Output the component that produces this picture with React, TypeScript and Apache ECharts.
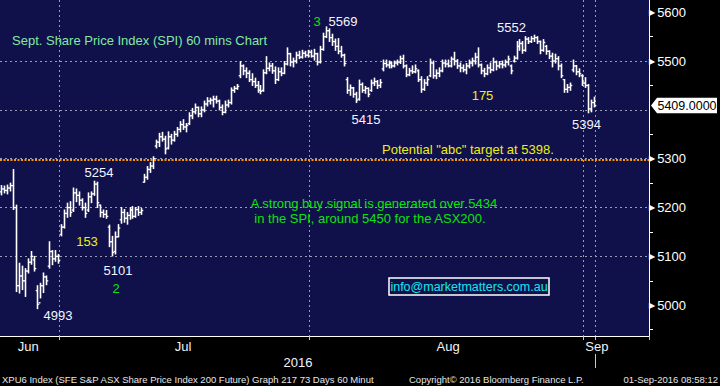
import { useEffect, useRef } from 'react';
import * as echarts from 'echarts';

// trading days shown (4 bars per day)
const junDays = ['24', '27', '28', '29', '30'];
const julDays = ['1', '4', '5', '6', '7', '8', '11', '12', '13', '14', '15', '18', '19', '20', '21', '22', '25', '26', '27', '28', '29'];
const augDays = ['1', '2', '3', '4', '5', '8', '9', '10', '11', '12', '15', '16', '17', '18', '19', '22', '23', '24', '25', '26', '29', '30', '31'];
const sepDays = ['1', '2', '5', '6', '7', '8'];
const slots = ['10:00', '12:00', '14:00', '16:00'];

// OHLC bars [open, high, low, close]
const junBars = [
  [5232, 5245, 5226, 5238], [5238, 5244, 5230, 5235], [5235, 5246, 5228, 5240], [5240, 5250, 5234, 5245],
  [5245, 5278, 5196, 5200], [5200, 5205, 5028, 5040], [5040, 5086, 5025, 5060], [5060, 5080, 5032, 5050],
  [5050, 5075, 5018, 5070], [5070, 5095, 5066, 5088], [5088, 5110, 5084, 5100], [5093, 5100, 5070, 5075],
  [5030, 5040, 4993, 5002], [5005, 5045, 5015, 5040], [5040, 5066, 5026, 5058], [5058, 5060, 5042, 5050],
  [5080, 5130, 5076, 5110], [5110, 5112, 5083, 5095], [5095, 5112, 5090, 5100], [5100, 5104, 5086, 5092],
];
const julBars = [
  [5145, 5165, 5142, 5160], [5160, 5195, 5158, 5188], [5188, 5209, 5180, 5200], [5200, 5212, 5182, 5190],
  [5195, 5240, 5192, 5230], [5230, 5238, 5212, 5225], [5225, 5232, 5205, 5215], [5215, 5218, 5195, 5200],
  [5200, 5209, 5180, 5188], [5195, 5230, 5192, 5222], [5222, 5232, 5210, 5228], [5228, 5254, 5225, 5248],
  [5248, 5252, 5200, 5210], [5205, 5205, 5181, 5190], [5190, 5195, 5180, 5186], [5186, 5194, 5178, 5182],
  [5160, 5164, 5120, 5130], [5130, 5141, 5101, 5108], [5110, 5150, 5105, 5140], [5140, 5165, 5140, 5158],
  [5175, 5200, 5168, 5190], [5190, 5196, 5170, 5178], [5178, 5190, 5166, 5184], [5184, 5200, 5176, 5195],
  [5195, 5202, 5178, 5182], [5182, 5200, 5180, 5196], [5196, 5202, 5184, 5190], [5190, 5198, 5186, 5194],
  [5252, 5268, 5252, 5262], [5262, 5284, 5258, 5278], [5278, 5292, 5272, 5285], [5285, 5304, 5280, 5300],
  [5326, 5338, 5322, 5334], [5334, 5352, 5325, 5345], [5345, 5354, 5336, 5340], [5340, 5346, 5310, 5320],
  [5322, 5355, 5320, 5345], [5345, 5350, 5330, 5338], [5338, 5356, 5336, 5350], [5350, 5364, 5346, 5360],
  [5360, 5376, 5355, 5370], [5370, 5380, 5360, 5365], [5365, 5372, 5355, 5368], [5372, 5394, 5370, 5388],
  [5388, 5403, 5382, 5396], [5396, 5412, 5392, 5405], [5405, 5406, 5386, 5392], [5392, 5406, 5386, 5400],
  [5400, 5418, 5396, 5412], [5412, 5425, 5408, 5418], [5418, 5424, 5412, 5420], [5420, 5428, 5406, 5422],
  [5422, 5428, 5414, 5418], [5418, 5420, 5400, 5405], [5405, 5410, 5390, 5395], [5395, 5418, 5394, 5410],
  [5410, 5420, 5406, 5415], [5415, 5445, 5412, 5440], [5440, 5448, 5436, 5444], [5444, 5452, 5442, 5448],
  [5470, 5499, 5466, 5490], [5490, 5492, 5472, 5480], [5480, 5486, 5466, 5475], [5475, 5480, 5458, 5462],
  [5462, 5474, 5450, 5458], [5458, 5465, 5446, 5450], [5450, 5458, 5436, 5440], [5440, 5450, 5433, 5438],
  [5440, 5482, 5438, 5476], [5476, 5509, 5474, 5485], [5485, 5496, 5480, 5490], [5490, 5495, 5475, 5480],
  [5480, 5488, 5454, 5462], [5462, 5486, 5460, 5478], [5478, 5486, 5470, 5475], [5475, 5499, 5474, 5494],
  [5494, 5527, 5492, 5515], [5515, 5516, 5490, 5498], [5498, 5506, 5488, 5500], [5500, 5518, 5496, 5512],
  [5512, 5520, 5505, 5508], [5508, 5522, 5506, 5516], [5516, 5520, 5508, 5512], [5512, 5522, 5508, 5518],
];
const augBars = [
  [5518, 5522, 5508, 5510], [5510, 5524, 5502, 5515], [5515, 5516, 5492, 5498], [5498, 5530, 5496, 5524],
  [5524, 5557, 5522, 5550], [5550, 5570, 5548, 5562], [5562, 5566, 5540, 5548], [5548, 5555, 5532, 5540],
  [5540, 5545, 5522, 5530], [5530, 5546, 5515, 5520], [5520, 5530, 5508, 5512], [5512, 5514, 5490, 5495],
  [5462, 5466, 5434, 5440], [5440, 5451, 5430, 5445], [5445, 5446, 5426, 5432], [5432, 5436, 5415, 5420],
  [5422, 5461, 5420, 5452], [5452, 5455, 5436, 5440], [5440, 5448, 5434, 5444], [5444, 5445, 5427, 5432],
  [5440, 5461, 5438, 5455], [5455, 5465, 5450, 5458], [5458, 5460, 5444, 5450], [5450, 5462, 5446, 5456],
  [5484, 5502, 5480, 5495], [5495, 5502, 5488, 5492], [5492, 5500, 5486, 5496], [5496, 5498, 5486, 5490],
  [5490, 5500, 5488, 5496], [5496, 5502, 5492, 5498], [5498, 5510, 5495, 5505], [5505, 5512, 5486, 5490],
  [5490, 5492, 5468, 5472], [5472, 5485, 5470, 5480], [5480, 5490, 5475, 5478], [5478, 5492, 5476, 5484],
  [5480, 5482, 5458, 5462], [5462, 5468, 5436, 5442], [5442, 5462, 5440, 5455], [5455, 5468, 5450, 5462],
  [5470, 5504, 5468, 5496], [5496, 5500, 5465, 5470], [5470, 5482, 5464, 5475], [5475, 5486, 5468, 5480],
  [5480, 5502, 5478, 5496], [5496, 5502, 5488, 5494], [5494, 5502, 5488, 5490], [5490, 5508, 5488, 5504],
  [5504, 5518, 5492, 5500], [5500, 5503, 5485, 5490], [5490, 5496, 5478, 5486], [5486, 5492, 5478, 5482],
  [5482, 5495, 5474, 5490], [5490, 5502, 5486, 5496], [5496, 5506, 5490, 5500], [5500, 5516, 5494, 5508],
  [5508, 5527, 5488, 5492], [5492, 5494, 5474, 5480], [5480, 5485, 5468, 5474], [5474, 5492, 5472, 5486],
  [5486, 5496, 5476, 5482], [5482, 5506, 5480, 5498], [5498, 5500, 5482, 5490], [5490, 5499, 5486, 5494],
  [5494, 5500, 5486, 5492], [5492, 5502, 5488, 5498], [5498, 5510, 5492, 5504], [5490, 5492, 5474, 5480],
  [5500, 5510, 5498, 5506], [5506, 5540, 5504, 5530], [5530, 5544, 5522, 5536], [5536, 5540, 5516, 5522],
  [5522, 5550, 5520, 5545], [5545, 5548, 5536, 5540], [5540, 5550, 5538, 5546], [5546, 5553, 5540, 5548],
  [5548, 5550, 5536, 5540], [5540, 5541, 5515, 5522], [5522, 5544, 5520, 5538], [5530, 5532, 5514, 5520],
  [5520, 5521, 5505, 5510], [5510, 5516, 5488, 5500], [5500, 5514, 5496, 5505], [5505, 5509, 5482, 5490],
  [5490, 5494, 5466, 5470], [5462, 5462, 5436, 5442], [5442, 5452, 5436, 5446], [5446, 5455, 5440, 5450],
  [5482, 5502, 5478, 5490], [5490, 5491, 5472, 5478], [5478, 5484, 5468, 5474], [5470, 5472, 5450, 5455],
];
const sepBars = [
  [5455, 5466, 5446, 5450], [5450, 5452, 5394, 5402], [5402, 5420, 5396, 5415], [5415, 5426, 5406, 5409],
];

const yGridValues = [5000, 5100, 5200, 5300, 5400, 5500, 5600];
const yLabelValues = [5000, 5100, 5200, 5300, 5500, 5600];
const yMinorValues = [4950, 5050, 5150, 5250, 5350, 5450, 5550];
const targetLevel = 5298;
const monthLabelIdx = [9, 61, 150, 200];
const monthTickIdx = [20, 104, 196];
const vLineIdx = [20, 104, 196, 200];
const CATEGORY_COUNT = 218;
const Y_MIN = 4937;
const Y_MAX = 5625;

const FONT = '"Liberation Sans", Arial, sans-serif';

export default function App() {
  const ref = useRef<HTMLDivElement>(null);
  useEffect(() => {
    const chart = echarts.init(ref.current!, null, { renderer: 'svg' });
    const cats: string[] = [];
    const months: [string, string[]][] = [['Jun', junDays], ['Jul', julDays], ['Aug', augDays], ['Sep', sepDays]];
    months.forEach(([m, days]) => days.forEach((d) => slots.forEach((s) => cats.push(`${m} ${d} ${s}`))));
    const categories = cats.slice(0, CATEGORY_COUNT);
    const bars = [...junBars, ...julBars, ...augBars, ...sepBars];
    const data = bars.map((b, i) => [i, b[0], b[1], b[2], b[3]]);
    const lastClose = bars[bars.length - 1][3];

    const gridRight = 71;
    const gridBottom = 50;
    const gridColor = '#9a9ab4';

    chart.setOption({
      animation: false,
      backgroundColor: '#000000',
      grid: { left: 0, top: 0, right: gridRight, bottom: gridBottom, show: true, backgroundColor: '#10104a', borderWidth: 0 },
      xAxis: {
        type: 'category',
        data: categories,
        boundaryGap: true,
        axisLine: { show: true, lineStyle: { color: '#ffffff', width: 1 } },
        axisTick: { show: true, interval: (i: number) => monthTickIdx.includes(i), length: 4, lineStyle: { color: '#c8c8c8' } },
        axisLabel: {
          interval: (i: number) => monthLabelIdx.includes(i),
          formatter: (v: string) => v.slice(0, 3),
          color: '#f2f2f2', fontSize: 13, fontFamily: FONT, margin: 4,
        },
        splitLine: { show: true, interval: (i: number) => vLineIdx.includes(i), lineStyle: { color: gridColor, type: [2, 3], width: 1 } },
      },
      yAxis: [
        {
          type: 'value',
          position: 'right',
          min: Y_MIN,
          max: Y_MAX,
          minInterval: 100,
          maxInterval: 100,
          axisLine: { show: true, lineStyle: { color: '#ffffff', width: 1 } },
          axisTick: { show: true, customValues: yGridValues, length: 0, lineStyle: { color: '#ffffff', width: 0 } },
          axisLabel: {
            customValues: yLabelValues,
            margin: 0,
            formatter: (v: number) => `{t|▶}{v|${v}}`,
            rich: {
              t: { fontSize: 8, color: '#ffffff', fontFamily: 'DejaVu Sans', padding: [0, 2, 0, 0] },
              v: { fontSize: 13, color: '#ffffff', fontFamily: FONT },
            },
          },
          splitLine: { show: true, showMinLine: false, showMaxLine: false, lineStyle: { color: gridColor, type: [2, 3], width: 1 } },
        },
        {
          type: 'value',
          position: 'right',
          min: Y_MIN,
          max: Y_MAX,
          minInterval: 100,
          maxInterval: 100,
          axisLine: { show: false },
          axisTick: { show: true, customValues: yMinorValues, length: 4, lineStyle: { color: '#ffffff' } },
          axisLabel: { show: false },
          splitLine: { show: false },
        },
      ],
      series: [
        {
          type: 'custom',
          data,
          encode: { x: 0, y: [1, 2, 3, 4] },
          renderItem: (params: any, api: any) => {
            const i = api.value(0);
            const pH = api.coord([i, api.value(2)]);
            const pL = api.coord([i, api.value(3)]);
            const pO = api.coord([i, api.value(1)]);
            const pC = api.coord([i, api.value(4)]);
            const x = Math.round(pH[0]) + 0.5;
            const st = { stroke: '#ffffff', lineWidth: 1.6 };
            const tk = { stroke: '#ffffff', lineWidth: 1.3 };
            return {
              type: 'group',
              children: [
                { type: 'line', shape: { x1: x, y1: pH[1] - 0.5, x2: x, y2: pL[1] + 0.5 }, style: st },
                { type: 'line', shape: { x1: x - 1.8, y1: pO[1], x2: x, y2: pO[1] }, style: tk },
                { type: 'line', shape: { x1: x, y1: pC[1], x2: x + 1.8, y2: pC[1] }, style: tk },
              ],
            };
          },
          markLine: {
            silent: true,
            symbol: 'none',
            label: { show: false },
            data: [{ yAxis: targetLevel, lineStyle: { color: '#ff9a00', type: [2, 1.5], width: 2 } }],
          },
        },
      ],
    });

    const W = chart.getWidth();
    const xA = W - gridRight;
    const yTag = chart.convertToPixel({ yAxisIndex: 0 }, lastClose) as number;
    const band = xA / CATEGORY_COUNT;
    const xNow = Math.round(vLineIdx[3] * band) + 0.5;
    const axisY = chart.getHeight() - gridBottom;

    const txt = (text: string, x: number, y: number, fill: string, size = 13, align = 'center', family = FONT) => ({
      type: 'text',
      x, y,
      silent: true,
      style: { text, fill, font: `${size}px ${family}`, textAlign: align, align, textVerticalAlign: 'middle', verticalAlign: 'middle' },
    });

    const white = '#f4f4ff';
    const yellow = '#eeee10';
    const green = '#10e010';

    chart.setOption({
      graphic: [
        txt('Sept. Share Price Index (SPI) 60 mins Chart', 12, 40, '#84e8a4', 13, 'left'),
        txt('3', 317, 21, green),
        txt('5569', 343, 21, white),
        txt('5415', 366, 119, white),
        txt('5552', 511.5, 27, white),
        txt('175', 482.5, 95, yellow),
        txt('5394', 586.5, 124, white),
        txt('Potential "abc" target at 5398.', 382, 149, yellow, 13, 'left'),
        txt('5254', 99, 172, white),
        txt('153', 87, 241, yellow),
        txt('5101', 118, 270, white),
        txt('2', 116, 288, green),
        txt('4993', 58, 315, white),
        txt('A strong buy signal is generated over 5434', 374, 203, green),
        txt('in the SPI, around 5450 for the ASX200.', 370, 218, green),
        { type: 'rect', silent: true, shape: { x: 389, y: 278, width: 160, height: 17 }, style: { fill: 'none', stroke: '#ffffff', lineWidth: 1.5 } },
        txt('info@marketmatters.com.au', 469, 287, '#10e8f0', 12.5),
        txt('2016', 298, 362, white),
        { type: 'line', silent: true, shape: { x1: xNow, y1: axisY, x2: xNow, y2: axisY + 4 }, style: { stroke: '#c8c8c8', lineWidth: 1 } },
        { type: 'line', silent: true, shape: { x1: xNow, y1: axisY + 18, x2: xNow, y2: axisY + 32 }, style: { stroke: '#c8c8c8', lineWidth: 1 } },
        {
          type: 'polygon', silent: true,
          shape: { points: [[xA + 2, yTag], [xA + 8, yTag - 7.7], [xA + 68, yTag - 7.7], [xA + 68, yTag + 7.7], [xA + 8, yTag + 7.7]] },
          style: { fill: '#ffffff' },
        },
        txt(lastClose.toFixed(4), xA + 38, yTag + 0.5, '#000000', 12.5),
        txt('XPU6 Index (SFE S&P ASX Share Price Index 200 Future) Graph 217 73 Days 60 Minut', 2, 379, '#e6e6e6', 9.5, 'left'),
        txt('Copyright© 2016 Bloomberg Finance L.P.', 409, 379, '#e6e6e6', 9.5, 'left'),
        txt('01-Sep-2016 08:58:12', 718, 379, '#e6e6e6', 9.5, 'right'),
      ],
    });

    return () => chart.dispose();
  }, []);
  return <div ref={ref} style={{ position: 'fixed', left: 0, top: 0, width: 720, height: 386 }} />;
}
